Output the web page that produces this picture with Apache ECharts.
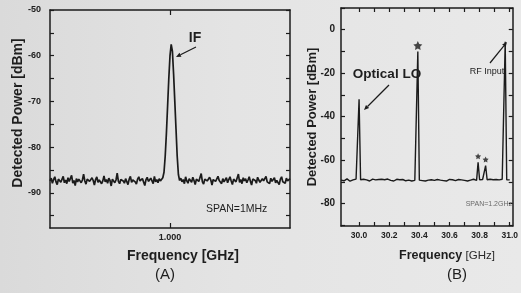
<!DOCTYPE html>
<html>
<head>
<meta charset="utf-8">
<script src="https://cdn.jsdelivr.net/npm/echarts@6/dist/echarts.min.js"></script>
<style>
html,body{margin:0;padding:0;}
#c{width:521px;height:293px;background:linear-gradient(90deg,#dadada 0%,#e4e4e4 45%,#e9e9e9 100%);}
</style>
</head>
<body>
<div id="c"></div>
<script>
// ---------- Panel A: IF spectrum (span 1 MHz around 1.000 GHz) ----------
const aStartGHz = 0.9995;
const aStepGHz = 0.000005;
const aPowerDbm = [
-87.4,-86.8,-87.9,-87.1,-86.5,-87.6,-88.2,-87.0,-86.9,-87.7,-87.3,-86.4,-87.8,-87.2,-88.0,-86.7,-87.5,-87.1,-86.2,-87.9,
-87.3,-88.4,-86.9,-87.6,-87.0,-86.6,-87.8,-87.2,-85.9,-87.4,-88.1,-87.0,-86.8,-87.5,-87.9,-86.7,-87.3,-88.3,-87.1,-86.5,
-87.7,-87.2,-86.9,-88.0,-87.4,-86.3,-87.6,-87.1,-87.9,-86.8,-87.3,-88.5,-87.0,-86.6,-87.8,-87.2,-85.7,-87.5,-88.0,-87.1,
-86.7,-87.4,-87.9,-86.9,-87.3,-88.2,-87.0,-86.4,-87.7,-87.2,-86.8,-87.6,-88.1,-87.0,-86.5,-87.4,-87.8,-86.9,-87.3,-88.4,
-87.1,-86.6,-87.5,-87.9,-86.8,-87.2,-88.0,-86.4,-87.6,-87.1,-87.8,-86.9,-87.4,-87.0,-86.7,
-85.5,-82,-77,-71,-65,-60,-57.5,-59,-64,-70,-76,-82,-86,
-87.3,-86.8,-87.6,-87.1,-88.0,-86.5,-87.4,-87.9,-86.9,-87.2,-87.7,-86.6,-87.3,-88.2,-87.0,-86.7,-87.5,-87.1,-85.8,-87.6,
-88.1,-87.0,-86.9,-87.4,-87.8,-86.6,-87.2,-88.3,-87.1,-86.8,-87.5,-87.9,-86.4,-87.3,-87.0,-88.0,-86.9,-87.6,-87.2,-86.7,
-87.8,-87.1,-86.5,-87.4,-88.2,-87.0,-86.8,-87.6,-87.3,-85.9,-87.7,-87.1,-88.0,-86.7,-87.4,-86.9,-87.8,-87.2,-86.5,-87.5,
-88.3,-87.0,-86.8,-87.3,-87.9,-86.6,-87.2,-87.7,-88.1,-86.9,-87.4,-87.0,-86.4,-87.6,-87.2,-88.0,-86.8,-87.5,-87.1,-86.7,
-87.8,-87.3,-86.9,-88.2,-87.0,-86.5,-87.6,-87.2,-87.9,-86.8,-87.4,-87.1,-86.9
];
const aXTickLabels = [1.000];
const aYTickLabels = [-50,-60,-70,-80,-90];
const aYTicks = [-50,-55,-60,-65,-70,-75,-80,-85,-90,-95];

// ---------- Panel B: optoelectronic mixing spectrum (span 1.2 GHz) ----------
const bStartGHz = 29.88;
const bStepGHz = 0.01;
const bPowerDbm = [
-69.2,-68.8,-69.5,-69.0,-68.6,-69.3,-69.7,-68.9,-69.1,-69.4,-68.7,-69.2,-32,-69.0,-69.3,-68.8,-69.5,-69.1,-68.9,-69.6,
-69.0,-68.7,-69.3,-69.1,-69.6,-68.9,-69.2,-68.8,-69.4,-69.0,-69.5,-68.7,-69.2,-69.3,-68.9,-69.6,-69.1,-68.8,-69.3,-69.0,
-69.4,-68.9,-69.1,-69.5,-68.7,-69.2,-69.0,-69.6,-68.8,-69.3,-69.1,-10,-69.2,-68.9,-69.4,-69.0,-69.6,-68.8,-69.2,-69.5,
-69.0,-68.7,-69.3,-69.1,-68.9,-69.5,-69.2,-68.8,-69.4,-69.0,-69.6,-69.1,-68.9,-69.3,-69.0,-68.7,-69.4,-69.2,-68.9,-69.5,
-69.1,-68.8,-69.3,-69.0,-69.6,-68.9,-69.2,-69.4,-68.8,-69.1,-69.3,-61,-69.0,-69.4,-68.9,-69.2,-62.5,-69.0,-69.5,-68.8,
-69.2,-69.0,-69.4,-68.9,-69.3,-69.1,-69.5,-68.8,-69.2,-5.5,-69.0,-69.3,-69.1
];
const bStarFreqGHz = [30.39, 30.79, 30.84];
const bStarPowerDbm = [-10, -61, -62.5];
const bXTickLabels = [30.0,30.2,30.4,30.6,30.8,31.0];
const bXTicks = [30.0,30.1,30.2,30.3,30.4,30.5,30.6,30.7,30.8,30.9,31.0];
const bYTickLabels = [0,-20,-40,-60,-80];
const bYTicks = [10,0,-10,-20,-30,-40,-50,-60,-70,-80,-90];

// ---------- build ----------
const INK = '#1b1b1b';
const FONT = '"Liberation Sans", Arial, sans-serif';
const aData = aPowerDbm.map((v,i)=>[aStartGHz + i*aStepGHz, v]);
const bData = bPowerDbm.map((v,i)=>[+(bStartGHz + i*bStepGHz).toFixed(3), v]);
const starData = bStarFreqGHz.map((f,i)=>[f, bStarPowerDbm[i]]);

function frameAxis(extra){
  return Object.assign({
    type:'value',
    axisLine:{show:true,onZero:false,lineStyle:{color:INK,width:1.5}},
    axisTick:{show:true,inside:true,length:4,lineStyle:{color:INK,width:1.2}},
    axisLabel:{show:false},
    splitLine:{show:false}
  }, extra);
}
function lbl(vals, fmt, size, margin){
  return {show:true,customValues:vals,formatter:fmt,color:'#202020',fontFamily:FONT,fontWeight:'bold',fontSize:size,margin:margin};
}

const A = {min:0.9995,max:1.0005}, AY={min:-97.7,max:-50};
const B = {min:29.88,max:31.02}, BY={min:-90.3,max:10};

const option = {
  animation:false,
  backgroundColor:'transparent',
  grid:[
    {left:50,top:10,width:240,height:218},
    {left:341,top:8,width:173,height:218}
  ],
  xAxis:[
    frameAxis({gridIndex:0,position:'bottom',min:A.min,max:A.max,
      axisTick:{show:true,inside:true,length:5,customValues:aXTickLabels,lineStyle:{color:INK,width:1.2}},
      axisLabel:lbl(aXTickLabels,v=>(+v).toFixed(3),9,5)}),
    frameAxis({gridIndex:0,position:'top',min:A.min,max:A.max,
      axisTick:{show:true,inside:true,length:5,customValues:aXTickLabels,lineStyle:{color:INK,width:1.2}}}),
    frameAxis({gridIndex:1,position:'bottom',min:B.min,max:B.max,
      axisTick:{show:true,inside:true,length:4,customValues:bXTicks,lineStyle:{color:INK,width:1.2}},
      axisLabel:lbl(bXTickLabels,v=>(+v).toFixed(1),8.5,5)}),
    frameAxis({gridIndex:1,position:'top',min:B.min,max:B.max,
      axisTick:{show:true,inside:true,length:4,customValues:bXTicks,lineStyle:{color:INK,width:1.2}}})
  ],
  yAxis:[
    frameAxis({gridIndex:0,position:'left',min:AY.min,max:AY.max,
      axisTick:{show:true,inside:true,length:4,customValues:aYTicks,lineStyle:{color:INK,width:1.2}},
      axisLabel:lbl(aYTickLabels,v=>String(Math.round(v)),9,9)}),
    frameAxis({gridIndex:0,position:'right',min:AY.min,max:AY.max,
      axisTick:{show:true,inside:true,length:4,customValues:aYTicks,lineStyle:{color:INK,width:1.2}}}),
    frameAxis({gridIndex:1,position:'left',min:BY.min,max:BY.max,
      axisTick:{show:true,inside:true,length:4,customValues:bYTicks,lineStyle:{color:INK,width:1.2}},
      axisLabel:lbl(bYTickLabels,v=>String(Math.round(v)),10,6)}),
    frameAxis({gridIndex:1,position:'right',min:BY.min,max:BY.max,
      axisTick:{show:true,inside:true,length:4,customValues:bYTicks,lineStyle:{color:INK,width:1.2}}})
  ],
  series:[
    {type:'line',xAxisIndex:0,yAxisIndex:0,data:aData,showSymbol:false,clip:true,
      lineStyle:{color:INK,width:1.7},emphasis:{disabled:true}},
    {type:'line',xAxisIndex:2,yAxisIndex:2,data:bData,showSymbol:false,clip:true,
      lineStyle:{color:INK,width:1.4},emphasis:{disabled:true}},
    {type:'scatter',xAxisIndex:2,yAxisIndex:2,data:starData,
      symbol:'path://M0,-10 L2.9,-4 9.5,-3.1 4.8,1.5 5.9,8.1 0,5 -5.9,8.1 -4.8,1.5 -9.5,-3.1 -2.9,-4 Z',
      symbolSize:(v,p)=>p.dataIndex===0?9:6,
      symbolOffset:[0,-6],
      itemStyle:{color:INK},emphasis:{disabled:true}}
  ]
};

function txt(x,y,text,size,weight,extra){
  return {type:'text',x:x,y:y,silent:true,z:50,style:Object.assign({text:text,fill:'#1e1e1e',fontFamily:FONT,fontSize:size,fontWeight:weight||'normal',align:'center',verticalAlign:'middle'},extra||{})};
}
function arrow(x1,y1,x2,y2){
  const ang = Math.atan2(y2-y1,x2-x1), L=5, W=2.2;
  const bx = x2 - L*Math.cos(ang), by = y2 - L*Math.sin(ang);
  const px = -Math.sin(ang)*W, py = Math.cos(ang)*W;
  return [
    {type:'line',silent:true,shape:{x1:x1,y1:y1,x2:bx,y2:by},style:{stroke:INK,lineWidth:1.2}},
    {type:'polygon',silent:true,shape:{points:[[x2,y2],[bx+px,by+py],[bx-px,by-py]]},style:{fill:INK}}
  ];
}

option.graphic = [].concat(
  [
    txt(18,113,'Detected Power [dBm]',14,'bold',{}),
    txt(312,117,'Detected Power [dBm]',13,'bold',{}),
    txt(183,256,'Frequency [GHz]',14,'bold'),
    {type:'text',x:447,y:256,silent:true,style:{text:'{a|Frequency} {b|[GHz]}',align:'center',verticalAlign:'middle',
      rich:{a:{fontFamily:FONT,fontSize:12.5,fontWeight:'bold',fill:'#1e1e1e'},b:{fontFamily:FONT,fontSize:11.5,fill:'#2a2a2a'}}}},
    txt(165,275,'(A)',15,'normal'),
    txt(457,275,'(B)',15,'normal'),
    txt(195,38,'IF',14,'bold'),
    txt(387,74,'Optical LO',13.5,'bold'),
    txt(487,72,'RF Input',9,'normal'),
    txt(206,209,'SPAN=1MHz',10.5,'normal',{align:'left'}),
    txt(512,204,'SPAN=1.2GHz',7,'normal',{align:'right',fill:'#6a6a6a'})
  ],
  arrow(196,47,176,57),
  arrow(389,85,364,110),
  arrow(490,63,507,42)
);
// rotate the y-axis titles
option.graphic[0].rotation = Math.PI/2;
option.graphic[1].rotation = Math.PI/2;

const chart = echarts.init(document.getElementById('c'),null,{renderer:'canvas',width:521,height:293});
chart.setOption(option);
</script>
</body>
</html>
